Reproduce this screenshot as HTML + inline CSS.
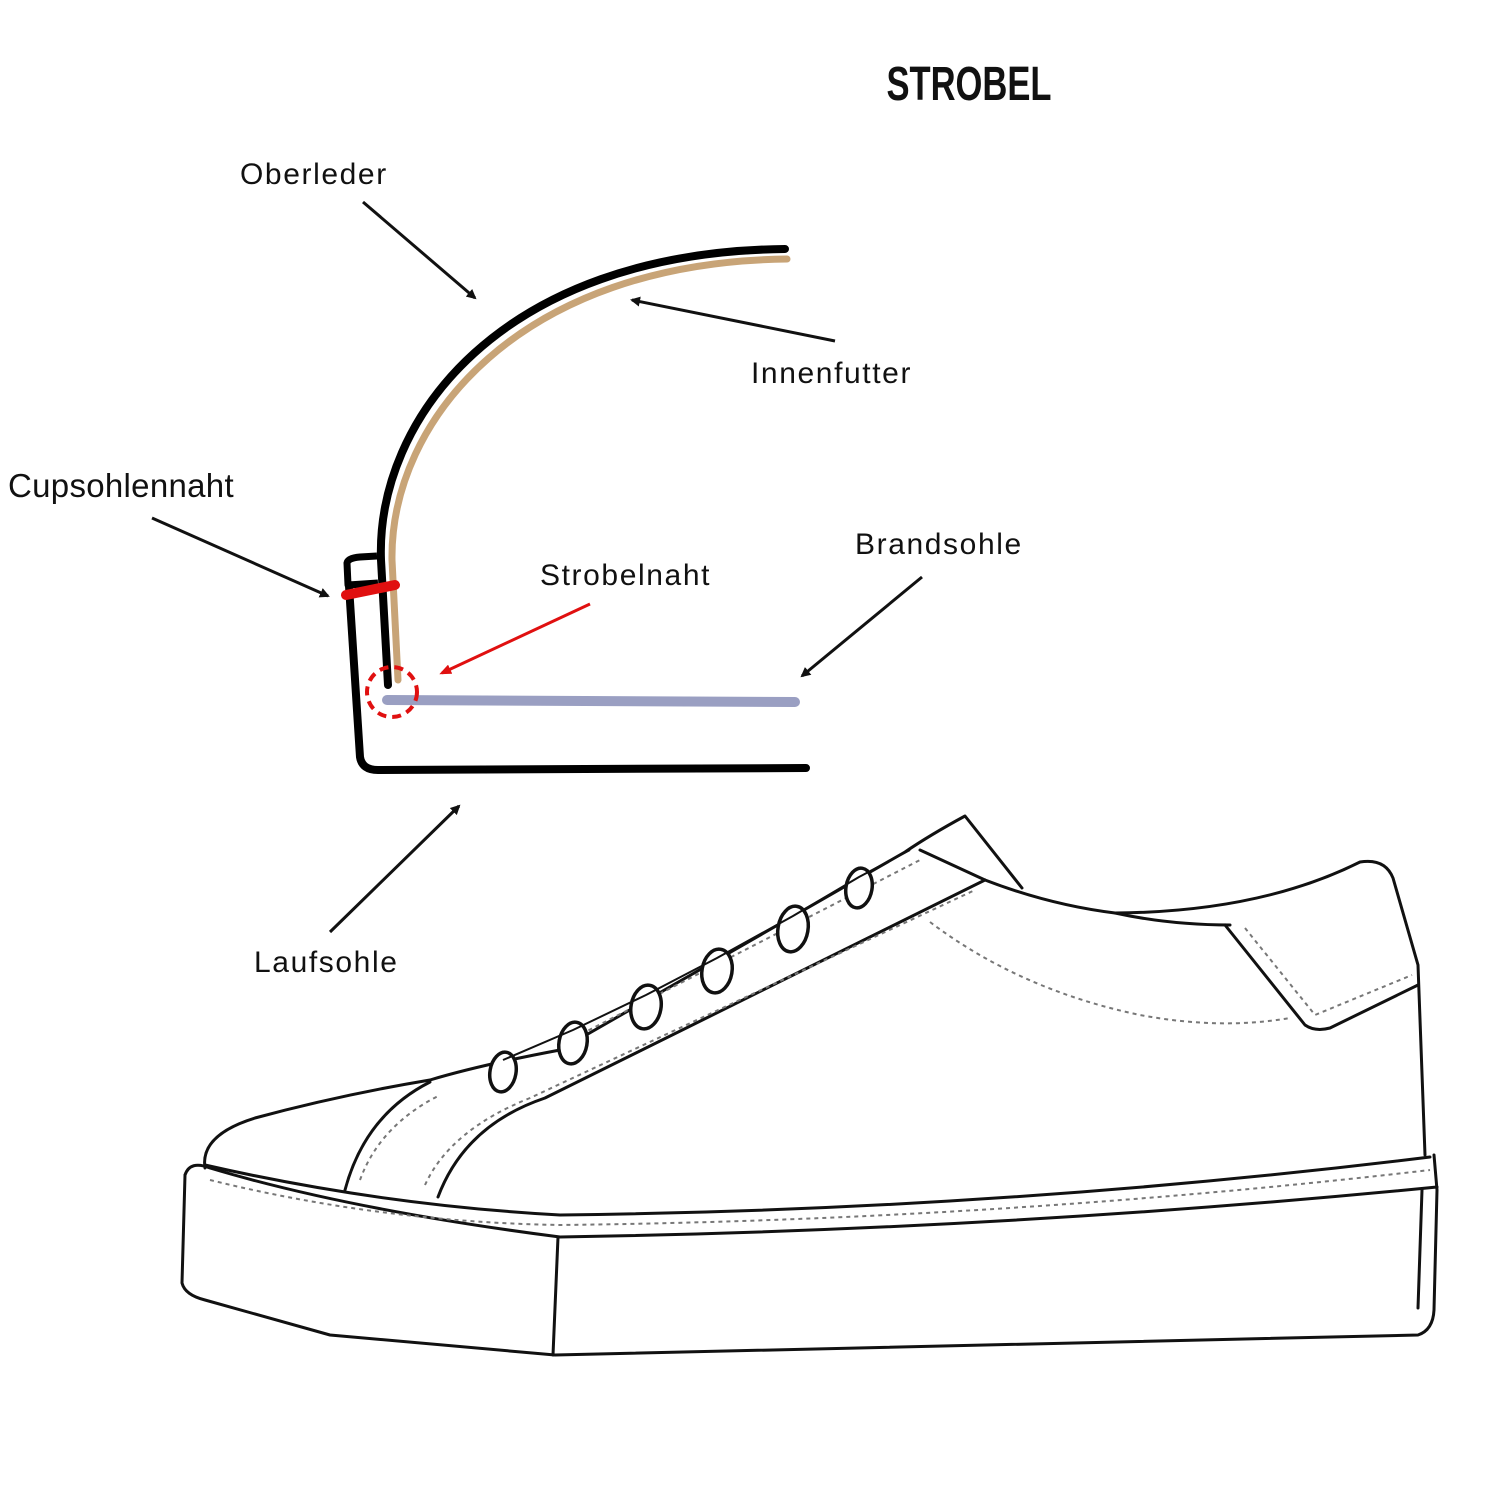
<!DOCTYPE html>
<html><head><meta charset="utf-8"><style>
html,body{margin:0;padding:0;background:#fff;}
svg{display:block;}
text{font-family:"Liberation Sans",sans-serif;fill:#111;}
.l{letter-spacing:1.6px;}
</style></head><body>
<svg width="1500" height="1500" viewBox="0 0 1500 1500" xmlns="http://www.w3.org/2000/svg">
<defs>
<marker id="ah" markerWidth="10" markerHeight="10" refX="8" refY="5" orient="auto" markerUnits="userSpaceOnUse"><path d="M0,0 L10,5 L0,10 z" fill="#111"/></marker>
<marker id="ahr" markerWidth="12" markerHeight="10" refX="9" refY="5" orient="auto" markerUnits="userSpaceOnUse"><path d="M0,0 L12,5 L0,10 z" fill="#e01010"/></marker>
</defs>
<text x="969" y="100" font-size="48" text-anchor="middle" font-weight="bold" style="font-family:'Liberation Sans Narrow','Liberation Sans',sans-serif" transform="translate(969 0) scale(0.72 1) translate(-969 0)">STROBEL</text>
<text class="l" x="240" y="184" font-size="30">Oberleder</text>
<text class="l" x="751" y="383" font-size="30">Innenfutter</text>
<text x="8" y="497" font-size="33" letter-spacing="0.3">Cupsohlennaht</text>
<text class="l" x="855" y="554" font-size="30">Brandsohle</text>
<text class="l" x="540" y="585" font-size="30">Strobelnaht</text>
<text class="l" x="254" y="972" font-size="30">Laufsohle</text>

<g stroke="#111" stroke-width="3" fill="none">
<line x1="363" y1="202" x2="475" y2="298" marker-end="url(#ah)"/>
<line x1="835" y1="341" x2="632" y2="300" marker-end="url(#ah)"/>
<line x1="152" y1="518" x2="328" y2="596" marker-end="url(#ah)"/>
<line x1="922" y1="577" x2="802" y2="676" marker-end="url(#ah)"/>
<line x1="330" y1="932" x2="459" y2="806" marker-end="url(#ah)"/>
</g>
<line x1="590" y1="604" x2="442" y2="673" stroke="#e01010" stroke-width="3" marker-end="url(#ahr)"/>

<path d="M398,680 L392,560 C390,420 520,262 787,259" stroke="#c8a477" stroke-width="7" fill="none" stroke-linecap="round"/>
<path d="M388,685 L381,560 C376,420 500,252 785,249" stroke="#000" stroke-width="8" fill="none" stroke-linecap="round"/>
<path d="M378,583 L348,585 L347,563 Q348,558 360,557 L377,556" stroke="#000" stroke-width="7" fill="none" stroke-linejoin="round"/>
<path d="M349,586 L360,757 Q362,770 378,770 L806,768" stroke="#000" stroke-width="8" fill="none" stroke-linecap="round" stroke-linejoin="round"/>
<line x1="346" y1="595" x2="395" y2="585" stroke="#e01010" stroke-width="10" stroke-linecap="round"/>
<line x1="387" y1="700" x2="795" y2="702" stroke="#9a9fc2" stroke-width="10" stroke-linecap="round"/>
<circle cx="392" cy="692" r="25" fill="none" stroke="#e01010" stroke-width="4" stroke-dasharray="9,6"/>

<g stroke="#111" stroke-width="3" fill="none" stroke-linejoin="round" stroke-linecap="round">
<path d="M185,1175 L182,1283 Q185,1295 205,1300 L330,1335 L555,1355 L1418,1335 Q1433,1330 1434,1310 L1437,1190 L1434,1155"/>
<path d="M185,1175 Q190,1160 210,1168 Q350,1210 560,1237 Q1000,1230 1437,1187"/>
<path d="M558,1237 L553,1355"/>
<path d="M1422,1190 L1418,1308"/>
<path d="M205,1165 Q380,1205 560,1215 Q1000,1210 1430,1157"/>
<path d="M205,1168 Q200,1135 255,1118 Q340,1095 430,1080 Q480,1065 560,1050 L905,852 Q930,835 965,816 L1022,888"/>
<path d="M920,850 L985,880 Q1050,905 1115,913 Q1260,912 1360,862 Q1385,858 1393,878 L1418,965 L1425,1155"/>
<path d="M1225,925 L1305,1025 Q1315,1032 1330,1028 L1418,985"/>
<path d="M345,1190 Q365,1115 430,1082"/>
<path d="M438,1197 Q465,1125 545,1098 L985,880"/>
<path d="M1115,913 Q1170,925 1230,925"/>
</g>
<g stroke="#777" stroke-width="2" fill="none" stroke-dasharray="4,4">
<path d="M210,1180 Q380,1222 560,1225 Q1000,1220 1430,1170"/>
<path d="M930,922 Q1020,990 1140,1015 Q1220,1030 1290,1018"/>
<path d="M1245,928 L1315,1015 L1412,975"/>
<path d="M360,1180 Q380,1125 440,1095"/>
<path d="M425,1185 Q450,1130 530,1098 L975,890"/>
<path d="M560,1045 L920,860"/>
</g>
<g stroke="#111" stroke-width="3.5" fill="#fff">
<ellipse cx="503" cy="1072" rx="13" ry="20" transform="rotate(10 503 1072)"/>
<ellipse cx="573" cy="1043" rx="14" ry="21" transform="rotate(10 573 1043)"/>
<ellipse cx="646" cy="1007" rx="15" ry="22" transform="rotate(10 646 1007)"/>
<ellipse cx="717" cy="971" rx="15" ry="22" transform="rotate(10 717 971)"/>
<ellipse cx="793" cy="929" rx="15" ry="23" transform="rotate(10 793 929)"/>
<ellipse cx="859" cy="888" rx="13" ry="20" transform="rotate(10 859 888)"/>
</g>
<g stroke="#111" stroke-width="2" fill="none">
<path d="M503,1060 L573,1030 M573,1030 L646,995 M646,995 L717,958 M717,958 L793,916 M793,916 L859,877 M859,877 L910,850"/>
</g>
</svg>
</body></html>
